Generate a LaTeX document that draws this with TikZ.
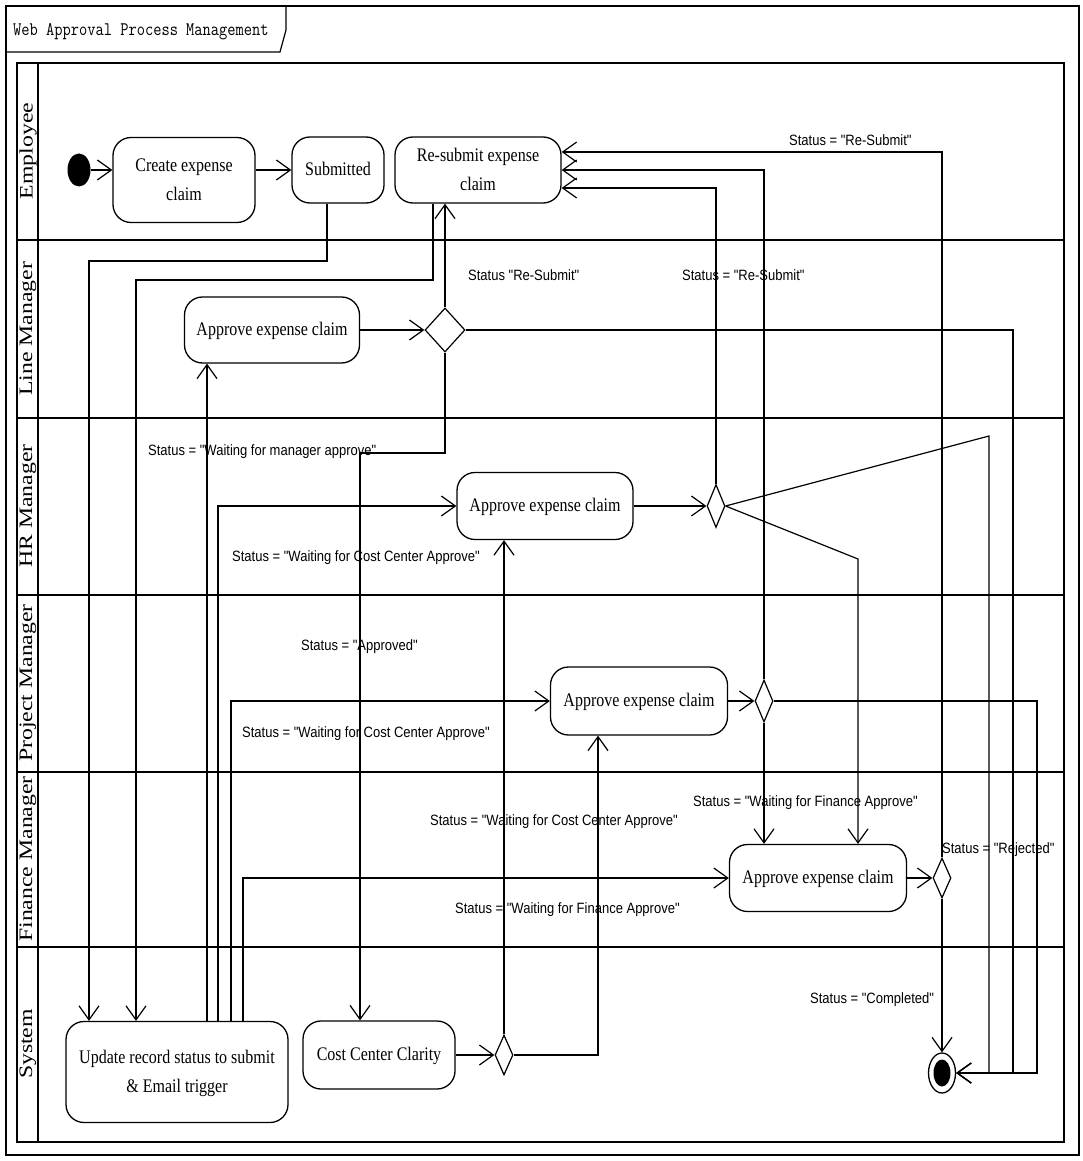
\documentclass[tikz,border=0pt]{standalone}
\usepackage{fontspec}
\usepackage{graphicx}
\setmainfont{Liberation Serif}
\newfontfamily\guardfont{Liberation Sans}
\usetikzlibrary{arrows.meta}
\usetikzlibrary{shapes.geometric}

\tikzset{
  lane/.style={line width=2.6pt},
  act/.style={draw, rounded corners=18pt, line width=1.3pt, inner sep=0pt, font=\fontsize{16}{24}\selectfont},
  decision/.style={diamond, draw, line width=1.2pt, inner sep=0pt},
  flow/.style={line width=1.2pt, -{Straight Barb[length=14pt,width=20pt]}},
  guard/.style={anchor=west, inner sep=0pt, font=\guardfont\fontsize{13}{15}\selectfont},
  lanename/.style={rotate=90, inner sep=0pt, font=\fontsize{19}{21}\selectfont},
}
\newcommand{\acttext}[1]{\scalebox{1}[1.2]{\begin{tabular}{@{}c@{}}#1\end{tabular}}}
\newcommand{\cond}[1]{\scalebox{1}[1.15]{#1}}
\newcommand{\lanetext}[1]{\scalebox{1.25}[1]{#1}}

\begin{document}
\begin{tikzpicture}[x=1pt, y=-1pt]
    \useasboundingbox (0,0) rectangle (1082,1161);

    % frame and title tab
    \draw[line width=1.2pt] (6,6) rectangle (1079,1155);
    \draw[line width=1.2pt] (6,52) -- (280,52) -- (286,30) -- (286,6);
    \node[anchor=west, inner sep=0pt, font=\ttfamily\fontsize{16}{18}\selectfont] (title) at (13,32) {\scalebox{1}[1.2]{Web Approval Process Management}};

    % swimlanes
    \draw[lane] (17,63) rectangle (1064,1142);
    \draw[line width=2pt] (38,63) -- (38,1142);
    \foreach \y in {240,418,595,772,947}
      \draw[lane] (17,\y) -- (1064,\y);

    \node[lanename] (employee) at (28,151) {\lanetext{Employee}};
    \node[lanename] (linemgr) at (28,329) {\lanetext{Line Manager}};
    \node[lanename] (hrmgr) at (28,506) {\lanetext{HR Manager}};
    \node[lanename] (projmgr) at (28,683) {\lanetext{Project Manager}};
    \node[lanename] (finmgr) at (28,859) {\lanetext{Finance Manager}};
    \node[lanename] (system) at (28,1044) {\lanetext{System}};

    % activities
    \node[fill, ellipse, minimum width=23pt, minimum height=33pt, inner sep=0pt] (init) at (79,170) {};
    \node[act, minimum width=142pt, minimum height=85pt] (create) at (184,180) {\acttext{Create expense\\claim}};
    \node[act, minimum width=92pt, minimum height=66pt] (submitted) at (338,170) {\acttext{Submitted}};
    \node[act, minimum width=166pt, minimum height=66pt] (resubmit) at (478,170) {\acttext{Re-submit expense\\claim}};

    \node[act, minimum width=175pt, minimum height=66pt] (lmapprove) at (272,330) {\acttext{Approve expense claim}};
    \node[decision, minimum width=40pt, minimum height=44pt] (lmdec) at (445,330) {};

    \node[act, minimum width=176pt, minimum height=67pt] (hrapprove) at (545,506) {\acttext{Approve expense claim}};
    \node[decision, minimum width=18pt, minimum height=43pt] (hrdec) at (716,506) {};

    \node[act, minimum width=177pt, minimum height=68pt] (pmapprove) at (639,701) {\acttext{Approve expense claim}};
    \node[decision, minimum width=18pt, minimum height=42pt] (pmdec) at (764,701) {};

    \node[act, minimum width=177pt, minimum height=67pt] (fmapprove) at (818,878) {\acttext{Approve expense claim}};
    \node[decision, minimum width=18pt, minimum height=40pt] (fmdec) at (942,878) {};

    \node[act, minimum width=222pt, minimum height=101pt] (update) at (177,1072) {\acttext{Update record status to submit\\\& Email trigger}};
    \node[act, minimum width=152pt, minimum height=68pt] (costcenter) at (379,1055) {\acttext{Cost Center Clarity}};
    \node[decision, minimum width=18pt, minimum height=40pt] (sysdec) at (504,1055) {};

    \node[draw, ellipse, line width=1.3pt, minimum width=27pt, minimum height=40pt, inner sep=0pt] (final) at (942,1073) {};
    \node[fill, ellipse, minimum width=17pt, minimum height=27pt, inner sep=0pt] (finaldot) at (final) {};

    % flows
    \draw[flow] (init) -- (init -| create.west);
    \draw[flow] (create.east |- submitted.west) -- (submitted.west);
    \draw[flow] ([xshift=-11pt]submitted.south) |- (89,261) -- (update.north -| 89,0);
    \draw[flow] ([xshift=-45pt]resubmit.south) |- (136,280) -- (update.north -| 136,0);

    \draw[flow] (update.north -| 207,0) -- (lmapprove.south -| 207,0);
    \draw[flow] (update.north -| 218,0) |- (hrapprove.west);
    \draw[flow] (update.north -| 231,0) |- (pmapprove.west);
    \draw[flow] (update.north -| 243,0) |- (fmapprove.west);

    \draw[flow] (lmapprove) -- (lmdec);
    \draw[flow] (lmdec.north) -- (lmdec.north |- resubmit.south);
    \draw[flow] (lmdec.south) |- (360,453) -- (costcenter.north -| 360,0);
    \draw[flow] (lmdec.east) -| (1013,1073) -- (final);

    \draw[flow] (hrapprove) -- (hrdec);
    \draw[flow] (hrdec.north) |- ([yshift=-18pt]resubmit.east);
    \draw[flow] (hrdec.east) -- (989,436) -- (989,1073) -- (final);
    \draw[flow] (hrdec.east) -- (858,559) -- (fmapprove.north -| 858,0);

    \draw[flow] (pmapprove) -- (pmdec);
    \draw[flow] (pmdec.north) |- (resubmit.east);
    \draw[flow] (pmdec.south) -- (pmdec.south |- fmapprove.north);
    \draw[flow] (pmdec.east) -| (1037,1073) -- (final);

    \draw[flow] (fmapprove) -- (fmdec);
    \draw[flow] (fmdec.north) |- ([yshift=18pt]resubmit.east);
    \draw[flow] (fmdec.south) -- (final);

    \draw[flow] (costcenter) -- (sysdec);
    \draw[flow] (sysdec.north) -- (sysdec.north |- hrapprove.south);
    \draw[flow] (sysdec.east) -| (pmapprove.south -| 598,0);

    % guards
    \node[guard] (gfmresubmit) at (789,140) {\cond{Status = "Re-Submit"}};
    \node[guard] (glmresubmit) at (468,275) {\cond{Status "Re-Submit"}};
    \node[guard] (ghrresubmit) at (682,275) {\cond{Status = "Re-Submit"}};
    \node[guard] (gwaitmgr) at (148,452) {\cond{Status = "Waiting for manager approve"}};
    \node[guard] (gwaithr) at (232,558) {\cond{Status = "Waiting for Cost Center Approve"}};
    \node[guard] (gapproved) at (301,647) {\cond{Status = "Approved"}};
    \node[guard] (gwaitpm) at (242,734) {\cond{Status = "Waiting for Cost Center Approve"}};
    \node[guard] (gwaitfin) at (693,803) {\cond{Status = "Waiting for Finance Approve"}};
    \node[guard] (gwaitcc) at (430,822) {\cond{Status = "Waiting for Cost Center Approve"}};
    \node[guard] (grejected) at (942,850) {\cond{Status = "Rejected"}};
    \node[guard] (gwaitfm) at (455,910) {\cond{Status = "Waiting for Finance Approve"}};
    \node[guard] (gcompleted) at (810,1000) {\cond{Status = "Completed"}};
\end{tikzpicture}
\end{document}
